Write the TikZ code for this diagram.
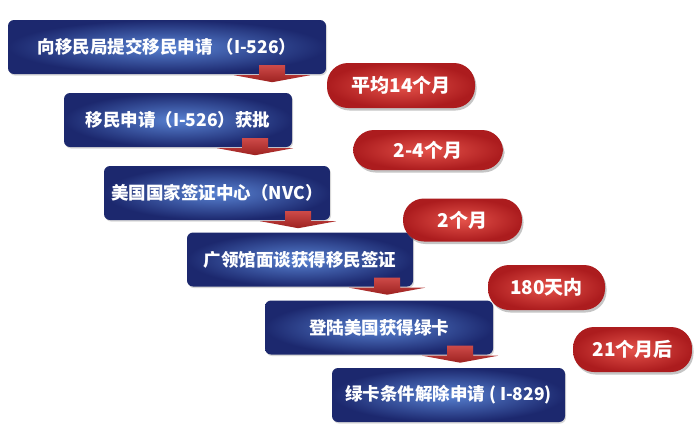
\documentclass[tikz,border=0pt]{standalone}
\usepackage{fontspec}
\newfontfamily\cjk{Noto Sans CJK SC}
\usetikzlibrary{calc,shadows}

\definecolor{navy}{RGB}{28,40,110}
\definecolor{navylight}{RGB}{88,130,210}
\definecolor{pillin}{RGB}{228,82,74}
\definecolor{pillout}{RGB}{172,28,30}
\definecolor{arrowred}{RGB}{196,42,40}

\tikzset{
  stagebox/.style={rectangle, rounded corners=6pt, inner color=navylight, outer color=navy,
    minimum height=54pt, text=white, font=\cjk\bfseries\fontsize{17.5}{20}\selectfont,
    drop shadow={opacity=0.3, shadow xshift=1pt, shadow yshift=-1.5pt}},
  timepill/.style={rectangle, rounded corners=21pt, inner color=pillin, outer color=pillout,
    text=white, font=\cjk\bfseries\fontsize{19}{21}\selectfont,
    drop shadow={opacity=0.45, shadow xshift=1.5pt, shadow yshift=-2.5pt}},
}

% red drop arrow under a box: #1 box name, #2 offset from its right edge
\newcommand{\stagearrow}[2]{%
  \coordinate (#1tip) at ($(#1.south east)+(#2,0)$);
  \shade[top color=arrowred!85!white, bottom color=arrowred!80!black]
    ($(#1tip)+(-13,-9)$) -- ($(#1tip)+(13,-9)$) -- ($(#1tip)+(13,1)$)
    -- ($(#1tip)+(38,1)$) -- ($(#1tip)+(0,8)$) -- ($(#1tip)+(-38,1)$)
    -- ($(#1tip)+(-13,1)$) -- cycle;}

\begin{document}
\begin{tikzpicture}[x=1pt, y=-1pt]
  \useasboundingbox[fill=white] (0,0) rectangle (700,434);

  % stages
  \node[stagebox, minimum width=318pt] (apply) at (167,47) {向移民局提交移民申请 （I-526）};
  \stagearrow{apply}{-54}
  \node[stagebox, minimum width=228pt] (approve) at (178,120) {移民申请（I-526）获批};
  \stagearrow{approve}{-37}
  \node[stagebox, minimum width=226pt] (nvc) at (217,193) {美国国家签证中心（NVC）};
  \stagearrow{nvc}{-32}
  \node[stagebox, minimum width=226pt] (interview) at (300,259.5) {广领馆面谈获得移民签证};
  \stagearrow{interview}{-26}
  \node[stagebox, minimum width=228pt] (entry) at (379,327.5) {登陆美国获得绿卡};
  \stagearrow{entry}{-33}
  \node[stagebox, minimum width=233pt] (remove) at (448.5,395) {绿卡条件解除申请 ( I-829)};

  % durations
  \node[timepill, minimum width=148pt, minimum height=45pt] (avg) at (401,85.5) {平均14个月};
  \node[timepill, minimum width=150pt, minimum height=40pt] (nvcwait) at (428,150) {2-4个月};
  \node[timepill, minimum width=119pt, minimum height=43pt] (visawait) at (462.5,220) {2个月};
  \node[timepill, minimum width=117pt, minimum height=45pt] (entrywait) at (546.5,287.5) {180天内};
  \node[timepill, minimum width=119pt, minimum height=45pt] (cardwait) at (632.5,349.5) {21个月后};
\end{tikzpicture}
\end{document}
